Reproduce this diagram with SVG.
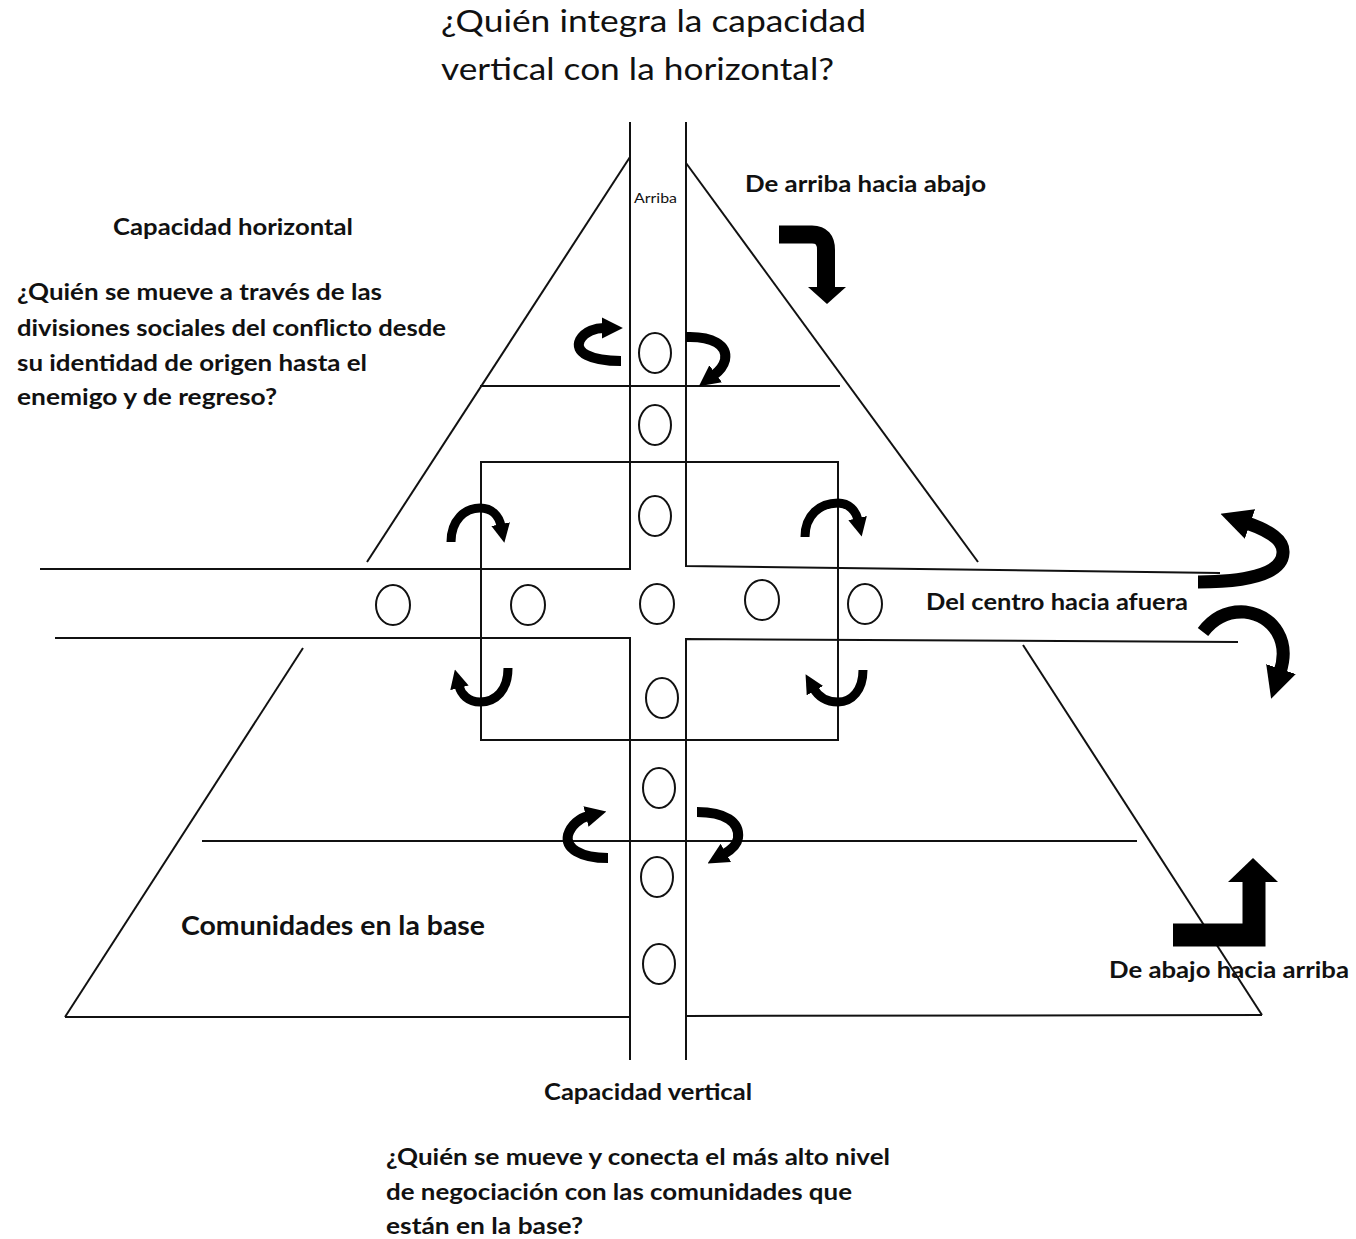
<svg xmlns="http://www.w3.org/2000/svg" width="1356" height="1239" viewBox="0 0 1356 1239">
<style>
.ln{fill:none;stroke:#111;stroke-width:2}
.ov{fill:none;stroke:#111;stroke-width:2}
.ar{fill:none;stroke:#000;stroke-linecap:butt}
.t{font-family:Lato,"Open Sans","Liberation Sans",sans-serif;fill:#111}
.b{font-weight:bold}
</style>
<defs>
<marker id="ah" viewBox="0 0 10 10" refX="1" refY="5" markerWidth="2.1" markerHeight="2.3" markerUnits="strokeWidth" orient="auto">
<path d="M0,0 L10,5 L0,10 z" fill="#000"/>
</marker>
<marker id="ah2" viewBox="0 0 10 10" refX="1" refY="5" markerWidth="2.4" markerHeight="3" markerUnits="strokeWidth" orient="auto">
<path d="M0,0 L10,5 L0,10 z" fill="#000"/>
</marker>
</defs>
<rect width="1356" height="1239" fill="#fff"/>

<g id="pyramid">
<line class="ln" x1="630" y1="157" x2="367" y2="562"/>
<line class="ln" x1="303" y1="648" x2="65" y2="1017"/>
<line class="ln" x1="686" y1="163" x2="978" y2="562"/>
<line class="ln" x1="1023" y1="645" x2="1262" y2="1015"/>
<line class="ln" x1="65" y1="1017" x2="630" y2="1017"/>
<line class="ln" x1="686" y1="1016" x2="1262" y2="1015"/>
<line class="ln" x1="480" y1="386" x2="840" y2="386"/>
<line class="ln" x1="202" y1="841" x2="1137" y2="841"/>
</g>

<g id="vertical-bar">
<path class="ln" d="M40,569 H630 V122"/>
<path class="ln" d="M686,122 V566 L1220,573"/>
<path class="ln" d="M55,638 H630 V1060"/>
<path class="ln" d="M686,1060 V639 L1238,642"/>
</g>

<g id="center-box">
<rect class="ln" x="481" y="462" width="357" height="278"/>
</g>

<g id="circles">
<ellipse class="ov" cx="655" cy="353" rx="16" ry="20"/>
<ellipse class="ov" cx="655" cy="425" rx="16" ry="20"/>
<ellipse class="ov" cx="655" cy="516" rx="16" ry="20"/>
<ellipse class="ov" cx="393" cy="605" rx="17" ry="20"/>
<ellipse class="ov" cx="528" cy="605" rx="17" ry="20"/>
<ellipse class="ov" cx="657" cy="604" rx="17" ry="20"/>
<ellipse class="ov" cx="762" cy="600" rx="17" ry="20"/>
<ellipse class="ov" cx="865" cy="604" rx="17" ry="20"/>
<ellipse class="ov" cx="662" cy="698" rx="16" ry="20"/>
<ellipse class="ov" cx="659" cy="788" rx="16" ry="20"/>
<ellipse class="ov" cx="657" cy="877" rx="16" ry="20"/>
<ellipse class="ov" cx="659" cy="964" rx="16" ry="20"/>
</g>

<g id="connectors">
<!-- top-down bent arrow -->
<path d="M779,234.5 H812 Q826,234.5 826,250 V288" fill="none" stroke="#000" stroke-width="18"/>
<polygon points="808,287 846,287 827,304" fill="#000"/>
<!-- bottom-up L arrow -->
<path d="M1173,935 H1254 V882" fill="none" stroke="#000" stroke-width="23"/>
<polygon points="1228,882 1278,882 1253,858" fill="#000"/>
<!-- top level curved arrows -->
<path class="ar" stroke-width="10" marker-end="url(#ah)" d="M621,361 C590,361 574,352 580,340 C585,331 596,328 604,328"/>
<path class="ar" stroke-width="10" marker-end="url(#ah)" d="M686,337 C712,336 728,345 725,360 C723,368 718,372 714,375"/>
<!-- left box arrows -->
<path class="ar" stroke-width="9" marker-end="url(#ah)" d="M451,542 C451,520 465,508 480,508 C492,508 499,516 501,526"/>
<path class="ar" stroke-width="9" marker-end="url(#ah)" d="M508,668 C508,690 496,702 480,702 C468,702 461,694 459,686"/>
<!-- right box arrows -->
<path class="ar" stroke-width="9" marker-end="url(#ah)" d="M805,537 C805,515 820,503 838,503 C849,503 856,511 858,520"/>
<path class="ar" stroke-width="9" marker-end="url(#ah)" d="M863,670 C863,690 852,702 838,702 C826,702 818,696 814,689"/>
<!-- far right arrows -->
<path class="ar" stroke-width="13" marker-end="url(#ah2)" d="M1198,582 C1240,582 1282,576 1283,553 C1284,540 1270,531 1247,523"/>
<path class="ar" stroke-width="13" marker-end="url(#ah2)" d="M1203,632 C1215,616 1230,611 1245,612 C1275,616 1290,642 1280,672"/>
<!-- bottom level curved arrows -->
<path class="ar" stroke-width="10" marker-end="url(#ah)" d="M608,858 C580,858 565,848 568,835 C571,825 580,818 588,816"/>
<path class="ar" stroke-width="10" marker-end="url(#ah)" d="M697,812 C725,812 740,822 738,838 C737,845 731,850 724,854"/>
</g>

<g id="labels">
<text class="t" x="441" y="32" font-size="30" textLength="425" lengthAdjust="spacingAndGlyphs">¿Quién integra la capacidad</text>
<text class="t" x="441" y="80" font-size="30" textLength="393" lengthAdjust="spacingAndGlyphs">vertical con la horizontal?</text>
<text class="t" x="634" y="203" font-size="13" textLength="43" lengthAdjust="spacingAndGlyphs">Arriba</text>
<text class="t b" x="745" y="192" font-size="22" textLength="241" lengthAdjust="spacingAndGlyphs">De arriba hacia abajo</text>
<text class="t b" x="113" y="235" font-size="22" textLength="240" lengthAdjust="spacingAndGlyphs">Capacidad horizontal</text>
<text class="t b" x="17" y="300" font-size="22" textLength="365" lengthAdjust="spacingAndGlyphs">¿Quién se mueve a través de las</text>
<text class="t b" x="17" y="336" font-size="22" textLength="429" lengthAdjust="spacingAndGlyphs">divisiones sociales del conflicto desde</text>
<text class="t b" x="17" y="371" font-size="22" textLength="350" lengthAdjust="spacingAndGlyphs">su identidad de origen hasta el</text>
<text class="t b" x="17" y="405" font-size="22" textLength="260" lengthAdjust="spacingAndGlyphs">enemigo y de regreso?</text>
<text class="t b" x="926" y="610" font-size="22" textLength="262" lengthAdjust="spacingAndGlyphs">Del centro hacia afuera</text>
<text class="t b" x="181" y="935" font-size="27" textLength="304" lengthAdjust="spacingAndGlyphs">Comunidades en la base</text>
<text class="t b" x="1109" y="978" font-size="22" textLength="240" lengthAdjust="spacingAndGlyphs">De abajo hacia arriba</text>
<text class="t b" x="544" y="1100" font-size="22" textLength="208" lengthAdjust="spacingAndGlyphs">Capacidad vertical</text>
<text class="t b" x="386" y="1165" font-size="22" textLength="504" lengthAdjust="spacingAndGlyphs">¿Quién se mueve y conecta el más alto nivel</text>
<text class="t b" x="386" y="1200" font-size="22" textLength="466" lengthAdjust="spacingAndGlyphs">de negociación con las comunidades que</text>
<text class="t b" x="386" y="1234" font-size="22" textLength="197" lengthAdjust="spacingAndGlyphs">están en la base?</text>
</g>
</svg>
